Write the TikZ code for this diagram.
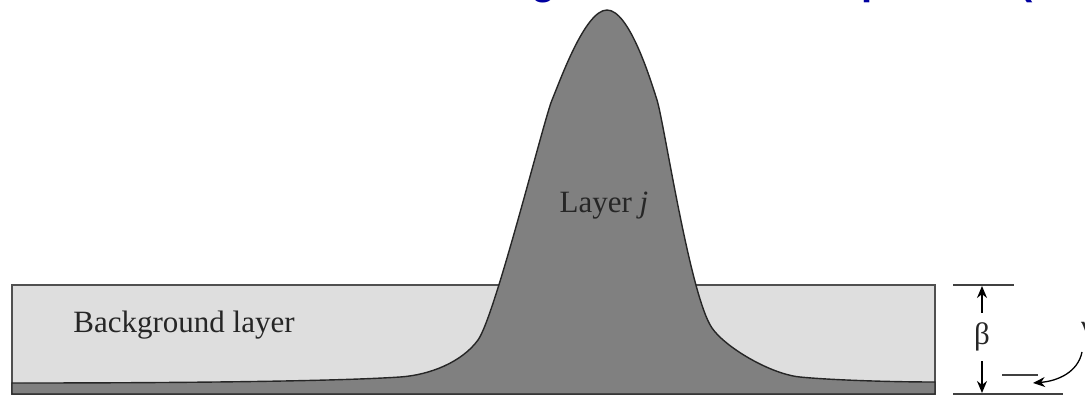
\documentclass[tikz,border=0pt]{standalone}
\usepackage{fontspec}
\setmainfont{Liberation Serif}
\newfontfamily\titlefont{Liberation Sans}
\usetikzlibrary{arrows.meta}
\definecolor{bglight}{HTML}{DEDEDE}
\definecolor{layerdark}{HTML}{808080}
\definecolor{edgegray}{HTML}{505050}
\definecolor{titleblue}{HTML}{0000A0}
\tikzset{
  lbl/.style={inner sep=0pt, font=\fontsize{31}{36}\selectfont, text=black!85},
  dimline/.style={draw=black!75, line width=2pt},
  dimarrow/.style={draw=black, line width=1.6pt, -{Stealth[length=12pt,width=10pt]}},
  frag/.style={inner sep=0pt, text=titleblue, font=\titlefont\bfseries\fontsize{40}{44}\selectfont}
}
\begin{document}
\begin{tikzpicture}[x=1pt,y=-1pt]
\useasboundingbox (0,0) rectangle (1085,396);
% clipped title fragments
\begin{scope}
\clip (0,0) rectangle (1085,3.5);
\node[frag, anchor=base] (fg) at (544,-5.5) {g};
\node[frag, anchor=base west] (fp) at (861,-5.5) {p};
\node[frag, anchor=base west] (fb) at (1019,-5.5) {(};
\end{scope}
% background layer
\draw[fill=bglight, draw=edgegray, line width=2pt] (12,285) rectangle (935,394);
% layer j
\filldraw[fill=layerdark, draw=black!85, line width=1.4pt]
  (12,383) .. controls (200,383) and (340,381) .. (400,377)
  .. controls (430,375) and (462,362) .. (478,340)
  .. controls (495,316.6) and (544,119) .. (552,100)
  .. controls (560,81) and (585,10) .. (607,10)
  .. controls (629,10) and (650,78) .. (657,100)
  .. controls (664,122) and (690,296) .. (712,328)
  .. controls (725,347) and (770,374) .. (800,377)
  .. controls (830,380) and (890,382) .. (935,382)
  -- (935,394) -- (12,394) -- cycle;
\node[lbl, anchor=base] (bg) at (184,332) {Background layer};
\node[lbl, anchor=base] (lj) at (604,212) {Layer \textit{j}};
% dimension
\coordinate (t1) at (953,285); \coordinate (t2) at (1014,285);
\coordinate (b1) at (953,394); \coordinate (b2) at (1063,394);
\draw[dimline] (t1) -- (t2);
\draw[dimline] (b1) -- (b2);
\node[lbl, minimum height=48pt] (beta) at (982,337) {β};
\coordinate (btop) at (982,286);
\coordinate (bbot) at (982,393);
\draw[dimarrow] (beta.north) -- (btop);
\draw[dimarrow] (beta.south) -- (bbot);
\node[lbl] (gamma) at (1088,333) {γ};
\coordinate (gstart) at (1082,352);
\coordinate (gtip) at (1033,383);
\draw[dimarrow, line width=1.3pt] (gstart) .. controls (1078,372) and (1058,381) .. (gtip);
\coordinate (s1) at (1002,375); \coordinate (s2) at (1038,375);
\draw[dimline] (s1) -- (s2);
\end{tikzpicture}
\end{document}
